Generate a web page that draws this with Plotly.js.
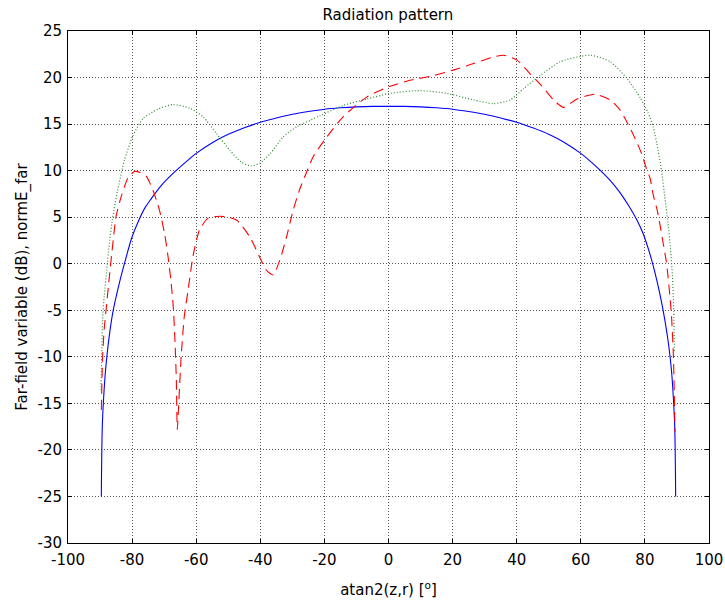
<!DOCTYPE html>
<html>
<head>
<meta charset="utf-8">
<script src="https://cdn.plot.ly/plotly-3.0.1.min.js"></script>
<style>html,body{margin:0;padding:0;background:#fff;}#chart{width:725px;height:608px;}</style>
</head>
<body>
<div id="chart"></div>
<script>
const blueX = [-89.6,-89.3,-88.9,-88.3,-87.4,-86,-84,-82,-80,-78,-76,-74,-70.4,-66.3,-63,-60,-55,-50,-45,-40,-35,-30,-25,-20,-15,-10,-5,0,5,10,15,20,25,30,35,40,45,50,55,60,63,66,69,72,75,77.5,79.5,81.6,83.1,84.7,86.2,87.4,88.3,88.9,89.3,89.6];
const blueY = [-25,-17.5,-14.5,-11.5,-8.5,-5.2,-2.1,0.5,2.9,4.6,6.0,7.0,8.6,10,11.0,11.85,13.0,13.9,14.6,15.2,15.65,16.05,16.35,16.6,16.75,16.85,16.9,16.9,16.9,16.85,16.75,16.6,16.35,16.05,15.65,15.2,14.6,13.9,13.0,11.85,11.0,10.05,9.0,7.75,6.2,4.7,3.2,1.0,-0.9,-3.3,-6.0,-8.7,-11.5,-14.5,-17.5,-25];

const redX = [-89.6,-89.2,-88.7,-88.1,-87.1,-86,-85,-83.4,-81.3,-79.3,-77.5,-75.6,-73.5,-71.5,-69.9,-68.8,-67.8,-67.1,-66.6,-66.2,-65.9,-65.5,-64.7,-63.7,-62.6,-61,-59,-56.3,-52.7,-50,-47.4,-43.3,-40.2,-38.1,-36,-33.9,-31.8,-29.8,-27.7,-25.6,-23.5,-19.3,-14.1,-6.8,0,6.7,14,20.2,26.5,32.7,35.9,40,44.2,47.3,51.5,54.6,58.8,64.5,69.2,72.3,73.8,75.9,77.4,79,80.5,81.6,82.6,83.8,84.7,85.7,86.6,87.1,87.8,88.3,88.9,89.4];
const redY = [-15.7,-10,-7,-4.9,-1.4,2.2,5.1,7.2,9.2,9.9,9.8,9.4,7.9,5.8,3.3,0.8,-2.1,-4.9,-8.5,-12.5,-17.8,-15.4,-10,-5.6,-3.0,0.8,3.6,4.9,5.1,5,4.7,2.9,0.7,-0.7,-1.2,0.4,2.9,5.7,8,9.8,11.5,13.6,15.8,17.9,19,19.7,20.2,20.8,21.5,22.2,22.4,21.9,20.4,19.3,17.6,16.8,17.7,18.2,17.6,16.5,15.6,14.2,13.1,11.8,10.2,9.2,7.4,5.8,4.2,2.2,0.4,-1,-3.5,-5.6,-10,-18.1];

const greenX = [-89.7,-89.2,-88.7,-87.9,-87.1,-86,-84.5,-82.4,-79.8,-76.6,-72,-67.2,-62,-57.9,-53.7,-49.5,-45.9,-42.8,-40.2,-37,-32.9,-28.7,-24.5,-21.4,-14.1,-6.8,0.5,9.8,18.2,26.5,32.7,38,42.1,47.3,53.6,63,69.2,74.4,78.6,81,82.6,84.1,85.2,86.2,87.2,88,88.6,89,89.2];
const greenY = [-13.6,-6,-3.5,-0.6,2.2,5.1,7.9,11.1,13.7,15.6,16.6,17.1,16.7,15.8,14,12.2,10.9,10.5,10.8,11.8,13.6,14.7,15.4,15.9,17,17.7,18.3,18.6,18.3,17.6,17.2,17.6,18.8,20.2,21.7,22.4,21.7,19.9,17.8,16.2,14.7,12.2,10,7.2,4.4,1.5,-1.4,-5,-9.6];

const xTicks = [-100,-80,-60,-40,-20,0,20,40,60,80,100];
const yTicks = [-30,-25,-20,-15,-10,-5,0,5,10,15,20,25];

const font = {family: 'DejaVu Sans, Verdana, sans-serif', size: 15, color: '#000'};

const traces = [
  {x: blueX, y: blueY, mode: 'lines', line: {color: '#0000ff', width: 1.1, shape: 'spline', smoothing: 1.0}},
  {x: redX, y: redY, mode: 'lines', line: {color: '#ff0000', width: 1.1, dash: '10px,6px', shape: 'spline', smoothing: 0.6}},
  {x: greenX, y: greenY, mode: 'lines', line: {color: '#2e8b2e', width: 1.2, dash: '1px,2px', shape: 'spline', smoothing: 0.6}}
];

const axisCommon = {
  showline: true, linecolor: '#000', linewidth: 1, mirror: 'ticks',
  ticks: 'inside', ticklen: 4, tickcolor: '#000',
  showgrid: true, gridcolor: '#555', gridwidth: 1, griddash: '1px,2px',
  zeroline: false, tickfont: font
};

const layout = {
  width: 725, height: 608,
  margin: {l: 68, r: 16, t: 31, b: 65},
  paper_bgcolor: '#fff', plot_bgcolor: '#fff',
  showlegend: false,
  font: font,
  title: {text: 'Radiation pattern', font: font, x: 0.535, xanchor: 'center', y: 0.975, yanchor: 'middle'},
  xaxis: Object.assign({}, axisCommon, {
    range: [-100, 100], tickmode: 'array', tickvals: xTicks, ticktext: xTicks.map(String),
    ticklabelstandoff: 3,
    title: {text: 'atan2(z,r) [<sup>o</sup>]', font: font, standoff: 16}
  }),
  yaxis: Object.assign({}, axisCommon, {
    range: [-30, 25], tickmode: 'array', tickvals: yTicks, ticktext: yTicks.map(String),
    ticklabelstandoff: 2,
    title: {text: 'Far-field variable (dB), normE_far', font: font, standoff: 6}
  })
};

Plotly.newPlot('chart', traces, layout, {staticPlot: true, displayModeBar: false});
</script>
</body>
</html>
